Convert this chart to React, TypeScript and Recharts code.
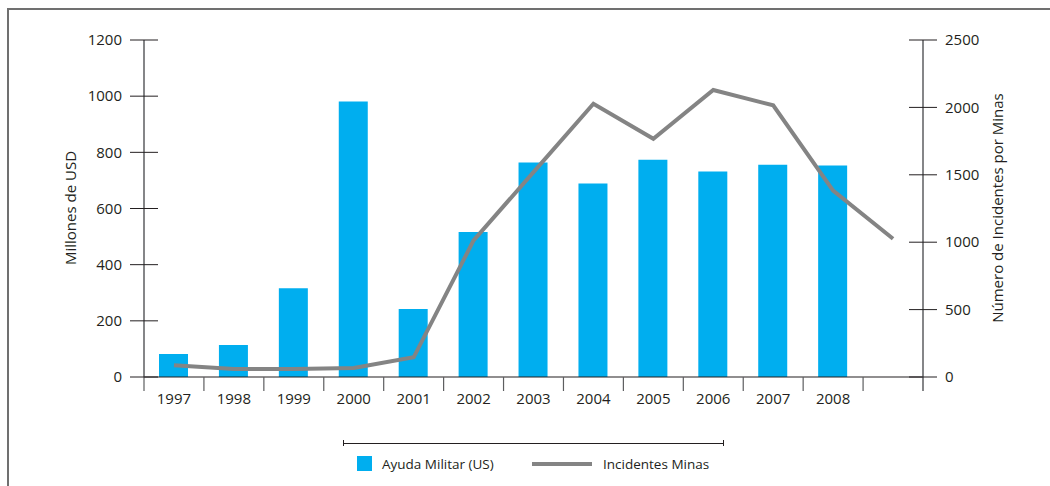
import React from "react";
import { ComposedChart, Bar, Line, XAxis, YAxis } from "recharts";

const years = ["1997", "1998", "1999", "2000", "2001", "2002", "2003", "2004", "2005", "2006", "2007", "2008", ""];
const ayudaMilitar = [82, 114, 316, 981, 242, 516, 764, 689, 774, 732, 756, 753, null];
const incidentesMinas = [87, 59, 59, 67, 146, 1013, 1520, 2027, 1767, 2129, 2015, 1383, 1026];
const leftTicks = [0, 200, 400, 600, 800, 1000, 1200];
const rightTicks = [0, 500, 1000, 1500, 2000, 2500];

const data = years.map((year, i) => ({
  year,
  ayuda: ayudaMilitar[i],
  minas: incidentesMinas[i],
}));

const FONT = "'Open Sans', sans-serif";
const TEXT = "#231f20";
const AXIS = "#5d5e60";
const BLUE = "#00aeef";
const GREY = "#848484";
const TICK = 14;
const GAP = 8;
const FS = 15;

function LeftTick(props: any) {
  const { x, y, payload } = props;
  const ax = x + TICK + GAP;
  return (
    <g>
      <line x1={ax - TICK} x2={ax + TICK} y1={y} y2={y} stroke={TEXT} strokeWidth={1} />
      <text x={x} y={y} dy="0.35em" textAnchor="end" fill={TEXT} fontSize={FS} fontFamily={FONT}>
        {payload.value}
      </text>
    </g>
  );
}

function RightTick(props: any) {
  const { x, y, payload } = props;
  const ax = x - TICK - GAP;
  return (
    <g>
      <line x1={ax - TICK} x2={ax + TICK} y1={y} y2={y} stroke={TEXT} strokeWidth={1} />
      <text x={x} y={y} dy="0.35em" textAnchor="start" fill={TEXT} fontSize={FS} fontFamily={FONT}>
        {payload.value}
      </text>
    </g>
  );
}

function YearTick(props: any) {
  const { x, y, payload, index, visibleTicksCount, width } = props;
  const bw = (width ?? 779) / (visibleTicksCount || years.length);
  const axisY = y - TICK - 2;
  return (
    <g>
      <line x1={x - bw / 2} x2={x - bw / 2} y1={axisY} y2={axisY + TICK} stroke={AXIS} strokeWidth={1.2} />
      {index === years.length - 1 && (
        <line x1={x + bw / 2} x2={x + bw / 2} y1={axisY} y2={axisY + TICK} stroke={AXIS} strokeWidth={1.5} />
      )}
      <text x={x} y={y} dy="0.72em" textAnchor="middle" fill={TEXT} fontSize={FS} fontFamily={FONT}>
        {payload.value}
      </text>
    </g>
  );
}

export default function App() {
  return (
    <div
      style={{
        position: "fixed",
        left: 0,
        top: 0,
        width: 1050,
        height: 486,
        overflow: "hidden",
        background: "#fff",
        fontFamily: FONT,
        color: TEXT,
      }}
    >
      <div
        style={{
          position: "absolute",
          left: 7,
          top: 8,
          width: 1200,
          height: 700,
          border: "2px solid #707070",
        }}
      />
      <div style={{ position: "absolute", left: 0, top: 0 }}>
        <ComposedChart
          width={1050}
          height={486}
          data={data}
          margin={{ top: 40, right: 67, bottom: 79, left: 84 }}
        >
          <XAxis
            dataKey="year"
            interval={0}
            tickLine={false}
            tickSize={TICK}
            tickMargin={2}
            tick={<YearTick />}
            axisLine={{ stroke: TEXT, strokeWidth: 1.2 }}
            height={30}
          />
          <YAxis
            yAxisId="left"
            orientation="left"
            width={60}
            domain={[0, 1200]}
            ticks={leftTicks}
            interval={0}
            tickLine={false}
            tickSize={TICK}
            tickMargin={GAP}
            tick={<LeftTick />}
            axisLine={{ stroke: AXIS, strokeWidth: 1.5 }}
          />
          <YAxis
            yAxisId="right"
            orientation="right"
            width={60}
            domain={[0, 2500]}
            ticks={rightTicks}
            interval={0}
            tickLine={false}
            tickSize={TICK}
            tickMargin={GAP}
            tick={<RightTick />}
            axisLine={{ stroke: AXIS, strokeWidth: 1.5 }}
          />
          <Bar yAxisId="left" dataKey="ayuda" fill={BLUE} barSize={29} isAnimationActive={false} />
          <Line
            yAxisId="right"
            type="linear"
            dataKey="minas"
            stroke={GREY}
            strokeWidth={4}
            dot={false}
            activeDot={false}
            isAnimationActive={false}
          />
        </ComposedChart>
      </div>

      {/* axis titles */}
      <div
        style={{
          position: "absolute",
          left: 70,
          top: 208,
          transform: "translate(-50%, -50%) rotate(-90deg)",
          whiteSpace: "nowrap",
          fontSize: FS,
        }}
      >
        Millones de USD
      </div>
      <div
        style={{
          position: "absolute",
          left: 997,
          top: 208,
          transform: "translate(-50%, -50%) rotate(-90deg)",
          whiteSpace: "nowrap",
          fontSize: FS,
        }}
      >
        Número de Incidentes por Minas
      </div>

      {/* legend */}
      <div style={{ position: "absolute", left: 343, top: 440, width: 381, height: 6 }}>
        <div style={{ position: "absolute", left: 0, right: 0, top: 2.5, height: 1, background: TEXT }} />
        <div style={{ position: "absolute", left: 0, top: 0, width: 1, height: 6, background: TEXT }} />
        <div style={{ position: "absolute", right: 0, top: 0, width: 1, height: 6, background: TEXT }} />
      </div>
      <div style={{ position: "absolute", left: 357, top: 456, width: 15, height: 15, background: BLUE }} />
      <div style={{ position: "absolute", left: 382, top: 454, fontSize: 13.5, lineHeight: "20px" }}>
        Ayuda Militar (US)
      </div>
      <div style={{ position: "absolute", left: 532, top: 461.5, width: 60, height: 4, background: GREY }} />
      <div style={{ position: "absolute", left: 603, top: 454, fontSize: 13.5, lineHeight: "20px" }}>
        Incidentes Minas
      </div>
    </div>
  );
}
